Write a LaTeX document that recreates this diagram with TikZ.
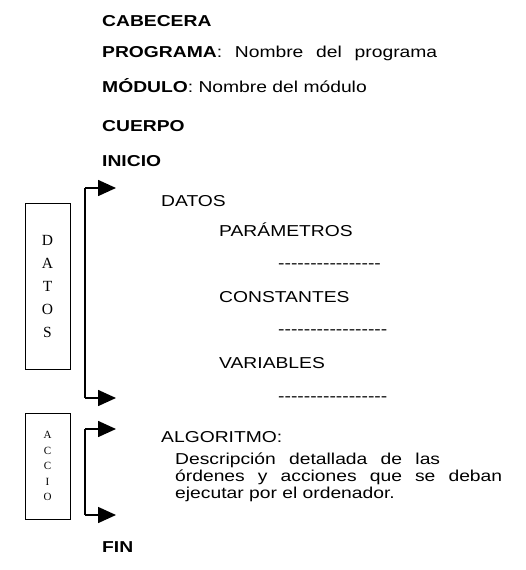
\documentclass[tikz,border=0pt]{standalone}
\usepackage{fontspec}
\setmainfont[FakeStretch=1.22]{Liberation Sans}
\newfontfamily\boxserif{Liberation Serif}
\usetikzlibrary{arrows.meta}
\newcommand\hy{\mbox{-}}
\newcommand\dashrow[1]{\foreach \i in {1,...,#1}{\hy}}
\tikzset{
  txt/.style={anchor=base west, inner sep=0pt, font=\fontsize{15.8}{18}\selectfont},
  bracket/.style={line width=1.6pt, -{Triangle[length=18pt,width=16pt]}},
  sidebox/.style={draw, line width=0.8pt, minimum width=45pt, inner sep=0pt}
}
\begin{document}
\begin{tikzpicture}[x=1pt,y=-1pt]
\useasboundingbox (0,0) rectangle (526,570);
\node[txt] (cab) at (102,26) {\textbf{CABECERA}};
\node[txt] (prog) at (102,57) {\makebox[335pt][s]{\textbf{PROGRAMA}: Nombre del programa}};
\node[txt] (mod) at (102,92) {\textbf{MÓDULO}: Nombre del módulo};
\node[txt] (cue) at (102,131) {\textbf{CUERPO}};
\node[txt] (ini) at (102,166) {\textbf{INICIO}};
\node[txt] (datos) at (161,206) {DATOS};
\node[txt] (par) at (219,236) {PARÁMETROS};
\node[txt] (d1) at (278,268) {\hy\hy\hy\hy\hy\hy\hy\hy\hy\hy\hy\hy\hy\hy\hy\hy};
\node[txt] (con) at (219,302) {CONSTANTES};
\node[txt] (d2) at (278,334) {\hy\hy\hy\hy\hy\hy\hy\hy\hy\hy\hy\hy\hy\hy\hy\hy\hy};
\node[txt] (var) at (219,368) {VARIABLES};
\node[txt] (d3) at (278,401) {\hy\hy\hy\hy\hy\hy\hy\hy\hy\hy\hy\hy\hy\hy\hy\hy\hy};
\node[txt] (alg) at (161,442) {ALGORITMO:};
\node[txt] (l1) at (175,464) {\makebox[265pt][s]{Descripción detallada de las}};
\node[txt] (l2) at (175,481) {\makebox[327pt][s]{órdenes y acciones que se deban}};
\node[txt] (l3) at (175,498) {ejecutar por el ordenador.};
\node[txt] (fin) at (102,552) {\textbf{FIN}};
% side boxes
\node[sidebox, minimum height=166pt, font=\boxserif\fontsize{15.5}{23}\selectfont, align=center] (bd) at (47.5,286) {D\\A\\T\\O\\S};
\node[sidebox, minimum height=106pt, font=\boxserif\fontsize{11}{15.5}\selectfont, align=center] (ba) at (47.5,466) {A\\C\\C\\I\\O};
% brackets
\coordinate (t1) at (85,188);
\coordinate (b1) at (85,398);
\coordinate (t1e) at (116,188);
\coordinate (b1e) at (116,398);
\coordinate (t2) at (85,429);
\coordinate (b2) at (85,515);
\coordinate (t2e) at (116,429);
\coordinate (b2e) at (116,515);
\draw[line width=1.6pt] (t1) -- (b1);
\draw[bracket] (t1) -- (t1e);
\draw[bracket] (b1) -- (b1e);
\draw[line width=1.6pt] (t2) -- (b2);
\draw[bracket] (t2) -- (t2e);
\draw[bracket] (b2) -- (b2e);
\end{tikzpicture}
\end{document}
